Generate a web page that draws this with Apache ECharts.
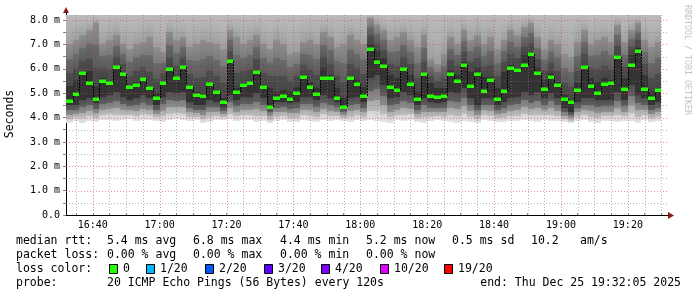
<!DOCTYPE html>
<html><head><meta charset="utf-8">
<script src="https://cdn.jsdelivr.net/npm/echarts@6/dist/echarts.min.js"></script>
<style>html,body{margin:0;padding:0;background:#fff;}#c{width:697px;height:297px;}</style>
</head><body><div id="c"></div>
<script>
// ---- data ----
const times = ['16:32','16:34','16:36','16:38','16:40','16:42','16:44','16:46','16:48','16:50','16:52','16:54','16:56','16:58',
'17:00','17:02','17:04','17:06','17:08','17:10','17:12','17:14','17:16','17:18','17:20','17:22','17:24','17:26','17:28','17:30',
'17:32','17:34','17:36','17:38','17:40','17:42','17:44','17:46','17:48','17:50','17:52','17:54','17:56','17:58',
'18:00','18:02','18:04','18:06','18:08','18:10','18:12','18:14','18:16','18:18','18:20','18:22','18:24','18:26','18:28','18:30',
'18:32','18:34','18:36','18:38','18:40','18:42','18:44','18:46','18:48','18:50','18:52','18:54','18:56','18:58',
'19:00','19:02','19:04','19:06','19:08','19:10','19:12','19:14','19:16','19:18','19:20','19:22','19:24','19:26','19:28'];
const median = [4.67,4.98,5.84,5.41,4.75,5.49,5.43,6.09,5.79,5.25,
5.34,5.60,5.21,4.80,5.42,5.99,5.61,6.08,5.25,4.93,
4.89,5.37,5.04,4.64,6.32,5.05,5.34,5.43,5.87,5.25,
4.42,4.80,4.87,4.75,5.00,5.66,5.25,4.95,5.62,5.64,
4.79,4.42,5.62,5.38,4.87,6.83,6.29,6.12,5.25,5.13,
5.98,5.36,4.75,5.79,4.89,4.84,4.89,5.80,5.49,6.14,
5.28,5.77,5.10,5.54,4.77,5.10,6.03,5.94,6.14,6.60,
5.82,5.19,5.68,5.35,4.77,4.65,5.14,6.09,5.30,5.00,
5.36,5.43,6.50,5.19,6.14,6.75,5.17,4.80,5.13];
const smokeMin = [3.78,3.85,3.76,3.86,3.83,3.88,3.92,3.84,3.88,3.95,
3.84,3.88,3.92,3.85,3.83,3.90,3.95,3.92,3.84,3.88,
3.77,3.83,3.92,3.88,3.95,3.84,3.88,3.92,3.82,3.86,
3.78,3.85,3.88,3.80,3.83,3.90,3.86,3.80,3.88,3.84,
3.92,3.86,3.82,3.88,3.84,3.90,3.86,3.80,3.78,3.88,
3.84,3.90,3.82,3.78,3.86,3.88,3.84,3.80,3.76,3.85,
3.82,3.78,3.88,3.84,3.82,3.80,3.86,3.84,3.90,3.86,
3.80,3.88,3.84,3.86,3.80,3.76,3.84,3.88,3.82,3.76,
3.84,3.86,3.80,3.86,3.84,3.78,3.88,3.82,3.86];
const coreLow = [4.52,4.52,4.72,4.79,4.58,4.86,4.92,5.06,4.86,4.72,
4.79,4.92,4.79,4.52,4.86,5.06,4.99,5.06,4.65,4.52,
4.52,4.72,4.65,4.45,4.92,4.72,4.86,4.86,4.99,4.79,
4.38,4.65,4.65,4.58,4.65,4.86,4.86,4.72,4.92,4.79,
4.65,4.38,4.79,4.86,4.65,5.61,5.75,5.34,4.79,4.86,
5.06,4.92,4.52,4.79,4.65,4.58,4.65,5.06,5.00,5.20,
4.79,4.52,4.79,4.79,4.52,4.65,4.79,4.86,5.06,4.92,
5.06,4.79,4.99,4.79,4.38,4.24,4.65,4.79,4.79,4.72,
4.72,4.72,5.06,4.72,5.34,4.92,4.79,4.52,4.65];
const coreHigh = [5.30,5.55,5.86,5.90,5.27,5.61,5.47,6.10,5.82,5.27,
5.47,5.61,5.27,4.99,5.47,6.02,5.68,6.10,5.34,5.06,
4.99,5.40,5.13,4.79,6.36,5.20,5.40,5.47,5.95,5.34,
5.20,5.06,5.13,5.06,5.27,5.75,5.47,5.20,6.02,5.75,
5.20,4.79,5.68,5.54,5.27,7.00,6.75,6.43,5.75,5.61,
6.02,5.75,5.06,5.82,5.40,5.20,5.20,5.95,5.75,6.29,
5.88,6.02,5.68,5.68,5.20,5.88,6.16,6.02,6.57,6.70,
6.02,5.54,5.82,5.47,4.92,4.72,5.40,6.16,5.61,5.47,
5.61,5.54,6.57,5.61,6.57,6.85,5.75,5.06,5.20];
const midTop = [7.0,7.2,7.4,7.6,7.9,7.0,7.2,7.4,7.0,6.8,
7.0,7.1,7.3,6.9,6.7,7.5,7.2,7.3,6.9,7.0,
7.2,7.1,7.0,6.8,7.6,7.3,7.0,7.2,7.4,7.0,
6.8,7.2,7.0,6.6,6.7,7.1,7.2,7.0,7.5,7.3,
6.9,7.0,7.4,7.2,7.0,8.1,7.8,7.6,7.2,7.3,
7.5,7.2,6.9,7.4,6.4,6.2,6.6,7.3,7.0,7.6,
7.2,7.4,7.0,7.3,6.8,7.2,7.6,7.4,7.7,7.9,
7.3,6.8,7.2,7.0,6.6,6.5,7.1,7.6,7.0,7.2,
7.3,7.1,7.8,7.1,7.6,7.9,7.2,6.9,7.1];
const xLabels = ['16:40','17:00','17:20','17:40','18:00','18:20','18:40','19:00','19:20'];
const yLabels = ['0.0','1.0 m','2.0 m','3.0 m','4.0 m','5.0 m','6.0 m','7.0 m','8.0 m'];
const axisStart = '16:32', axisEnd = '19:32';
const yTop = 8.21;
const rttStats = ['5.4 ms avg','6.8 ms max','4.4 ms min','5.2 ms now','0.5 ms sd','10.2','am/s'];
const lossStats = ['0.00 % avg','0.00 % max','0.00 % min','0.00 % now'];
const lossLabels = ['0','1/20','2/20','3/20','4/20','10/20','19/20'];
const probeText = '20 ICMP Echo Pings (56 Bytes) every 120s';
const endText = 'end: Thu Dec 25 19:32:05 2025';

// ---- helpers / styling ----
const lossColors = ['#26ff00','#00b8ff','#0059ff','#5e00ff','#7e00ff','#dd00ff','#ff0000'];
function toMin(s){const p=s.split(':');return (+p[0]-16)*60 + (+p[1]);}
function fromMin(v){const h=16+Math.floor(v/60), m=Math.round(v%60);return h+':'+(m<10?'0':'')+m;}
const MONO = '"DejaVu Sans Mono", "Liberation Mono", monospace';
const xMin = toMin(axisStart), xMax = toMin(axisEnd);
const stepEnd = (i)=> i<times.length-1 ? toMin(times[i+1]) : toMin(times[i])+2;

const smokeData = times.map((t,i)=>[toMin(t), stepEnd(i), smokeMin[i], coreLow[i], coreHigh[i], midTop[i]]);
const medData = times.map((t,i)=>[toMin(t), stepEnd(i), median[i], i>0?median[i-1]:median[i]]);
const vGrid = []; for (let m=xMin+3; m<=xMax; m+=5) if ((m)%5===0) vGrid.push([m,0]);
const hGrid = []; for (let k=1;k<=16;k++) hGrid.push([xMin,k*0.5]);
const xTickVals = vGrid.map(d=>d[0]);
const yTickVals = [0].concat(hGrid.map(d=>d[1]));

const G = echarts.graphic;
function lg(stops){return new G.LinearGradient(0,0,0,1,stops.map(s=>({offset:s[0],color:s[1]})));}

const chart = echarts.init(document.getElementById('c'), null, {renderer:'canvas'});
const legendItems = [];
function txt(x,y,t,extra){legendItems.push(Object.assign({type:'text',x:x,y:y,silent:true,style:{text:t,fontFamily:MONO,fontSize:11.5,fill:'#000',verticalAlign:'middle',align:'left'}},extra||{}));}
const row = [241.5,255.5,269.3,282.8];
txt(16,row[0],'median rtt:');
const rttX=[107,193,280,366,452,531,580];
rttStats.forEach((s,i)=>txt(rttX[i],row[0],s));
txt(16,row[1],'packet loss:');
lossStats.forEach((s,i)=>txt(rttX[i],row[1],s));
txt(16,row[2],'loss color:');
const boxX=[109,146,205,264,321,380,444];
lossLabels.forEach((s,i)=>{
  legendItems.push({type:'rect',silent:true,shape:{x:boxX[i]+0.5,y:264.5,width:8,height:9},style:{fill:lossColors[i],stroke:'#000',lineWidth:1}});
  txt(boxX[i]+14,row[2],s);
});
txt(16,row[3],'probe:');
txt(107,row[3],probeText);
legendItems.push({type:'text',x:681,y:row[3],silent:true,style:{text:endText,fontFamily:MONO,fontSize:11.5,fill:'#000',verticalAlign:'middle',align:'right'}});
legendItems.push({type:'text',x:10,y:114,rotation:Math.PI/2,silent:true,style:{text:'Seconds',fontFamily:MONO,fontSize:11.5,fill:'#000',verticalAlign:'middle',align:'center'}});
legendItems.push({type:'text',x:687,y:60,rotation:-Math.PI/2,silent:true,style:{text:'RRDTOOL / TOBI OETIKER',fontFamily:MONO,fontSize:8.3,fill:'#c4c4c4',verticalAlign:'middle',align:'center'}});
legendItems.push({type:'polygon',silent:true,shape:{points:[[63,13],[69,13],[66,7]]},style:{fill:'#8e1a1a'}});
legendItems.push({type:'line',silent:true,shape:{x1:66.5,y1:15,x2:66.5,y2:12},style:{stroke:'#000',lineWidth:1}});
legendItems.push({type:'polygon',silent:true,shape:{points:[[668,212],[674,215.5],[668,219]]},style:{fill:'#8e1a1a'}});

chart.setOption({
  animation:false,
  backgroundColor:'#fff',
  grid:{left:66,right:29,top:15,bottom:82,containLabel:false},
  xAxis:{type:'value',min:xMin,max:xMax,
    axisLine:{show:true,lineStyle:{color:'#000',width:1}},
    axisTick:{show:true,inside:true,length:2,customValues:xTickVals,lineStyle:{color:'#888'}},
    axisLabel:{customValues:xLabels.map(toMin),formatter:(v)=>{const s=fromMin(v);return xLabels.indexOf(s)>=0?s:'';},
      fontFamily:MONO,fontSize:10,color:'#000',margin:5},
    splitLine:{show:false}},
  yAxis:{type:'value',min:0,max:yTop,
    axisLine:{show:true,lineStyle:{color:'#000',width:1}},
    axisTick:{show:true,length:3,customValues:yTickVals,lineStyle:{color:'#888'}},
    axisLabel:{customValues:[0,1,2,3,4,5,6,7,8],formatter:(v)=>{const r=Math.round(v);return Math.abs(v-r)<1e-6&&r<yLabels.length?yLabels[r]:'';},
      fontFamily:MONO,fontSize:10,color:'#000',margin:6},
    splitLine:{show:false}},
  graphic:legendItems,
  series:[
    {type:'custom',name:'smoke',z:1,silent:true,clip:true,data:smokeData,
     renderItem:function(params,api){
       const x0=api.value(0),x1=api.value(1);
       const pA=api.coord([x0,api.value(2)]), pB=api.coord([x1,api.value(3)]);
       const pC=api.coord([x1,api.value(4)]), pD=api.coord([x1,api.value(5)]);
       const top=params.coordSys.y;
       const l=Math.round(pA[0]), r=Math.round(pB[0]), w=r-l;
       const yA=Math.round(pA[1]), yB=Math.round(pB[1]), yC=Math.round(pC[1]), yD=Math.max(top,Math.round(pD[1]));
       const ch=[];
       ch.push({type:'rect',shape:{x:l,y:yB,width:w,height:yA-yB},style:{fill:lg([[0,'#4e4e4e'],[0.3,'#5e5e5e'],[0.3,'#7c7c7c'],[0.55,'#8e8e8e'],[0.55,'#aaaaaa'],[0.78,'#bcbcbc'],[0.78,'#d2d2d2'],[1,'#e6e6e6']])}});
       ch.push({type:'rect',shape:{x:l,y:yC,width:w,height:yB-yC},style:{fill:'#333'}});
       if (yC>yD) ch.push({type:'rect',shape:{x:l,y:yD,width:w,height:yC-yD},style:{fill:lg([[0,'#8e8e8e'],[0.35,'#7a7a7a'],[0.35,'#6a6a6a'],[0.7,'#5a5a5a'],[0.7,'#4c4c4c'],[1,'#464646']])}});
       if (yD>top) ch.push({type:'rect',shape:{x:l,y:top,width:w,height:yD-top},style:{fill:lg([[0,'#bcbcbc'],[0.5,'#b0b0b0'],[1,'#9e9e9e']])}});
       return {type:'group',children:ch};
     }},
    {type:'custom',name:'vgrid',z:2,silent:true,data:vGrid,
     renderItem:function(params,api){
       const v=api.value(0); const p=api.coord([v,0]); const cs=params.coordSys;
       const major=(v%20===0); const x=Math.round(p[0])+0.5;
       return {type:'line',shape:{x1:x,y1:cs.y,x2:x,y2:cs.y+cs.height},
         style:{stroke:major?'rgba(225,70,70,0.6)':'rgba(120,120,120,0.55)',lineWidth:1,lineDash:[1,2]}};
     }},
    {type:'custom',name:'hgrid',z:2,silent:true,data:hGrid,
     renderItem:function(params,api){
       const v=api.value(1); const p=api.coord([xMin,v]); const cs=params.coordSys;
       const major=Math.abs(v-Math.round(v))<1e-6; const y=Math.round(p[1])+0.5;
       return {type:'line',shape:{x1:cs.x,y1:y,x2:cs.x+cs.width,y2:y},
         style:{stroke:major?'rgba(225,70,70,0.6)':'rgba(120,120,120,0.55)',lineWidth:1,lineDash:[1,2]}};
     }},
    {type:'custom',name:'median',z:3,silent:true,data:medData,
     renderItem:function(params,api){
       const x0=api.value(0),x1=api.value(1),m=api.value(2),pm=api.value(3);
       const p0=api.coord([x0,m]), p1=api.coord([x1,m]), pp=api.coord([x0,pm]);
       const l=Math.round(p0[0]), r=Math.round(p1[0]);
       const ch=[];
       if (params.dataIndex>0) ch.push({type:'line',shape:{x1:l+0.5,y1:Math.round(pp[1]),x2:l+0.5,y2:Math.round(p0[1])},style:{stroke:'#000',lineWidth:1,lineDash:[2,1]}});
       ch.push({type:'rect',shape:{x:l,y:Math.round(p0[1])-1.5,width:r-l,height:3.5},style:{fill:lossColors[0]}});
       return {type:'group',children:ch};
     }}
  ]
});
</script></body></html>
